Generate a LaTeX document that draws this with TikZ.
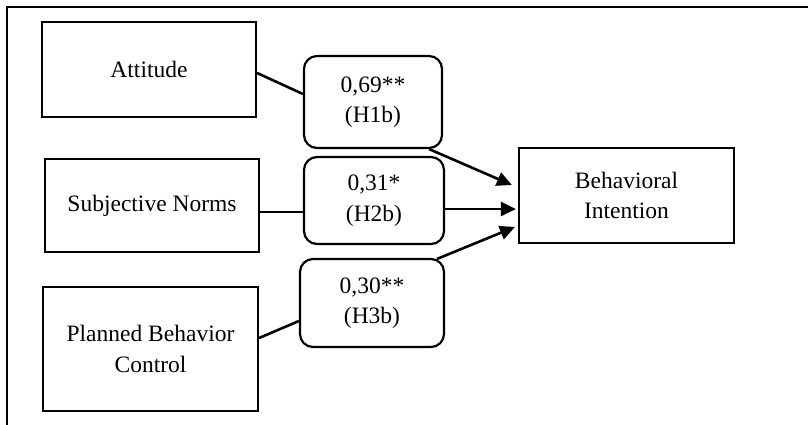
\documentclass[tikz,border=0pt]{standalone}
\usepackage{fontspec}
\setmainfont{Liberation Serif}
\usetikzlibrary{arrows.meta}
\begin{document}
\begin{tikzpicture}[x=1pt,y=-1pt,
  txt/.style={font=\fontsize{23.5}{30.5}\selectfont, align=center, inner sep=0pt},
  box/.style={txt, draw, line width=2.2pt, rectangle},
  rbox/.style={txt, draw, line width=2.2pt, rectangle, rounded corners=13pt},
  conn/.style={line width=2.6pt},
  arr/.style={conn, -{Triangle[length=15pt,width=14pt]}}]
\useasboundingbox (0,0) rectangle (808,424);
\clip (0,0) rectangle (808,424);
\fill[white] (0,0) rectangle (808,424);
\draw[line width=1.4pt] (7,7) rectangle (840,450);
% left boxes
\node[box, minimum width=214pt, minimum height=95pt] (att) at (149,69.5) {Attitude};
\node[box, minimum width=214pt, minimum height=93pt] (sn) at (152,205.5) {Subjective Norms};
\node[box, minimum width=215pt, minimum height=124pt] (pbc) at (150.5,349) {Planned Behavior\\Control};
% coefficient boxes
\node[rbox, minimum width=138pt, minimum height=92pt] (h1) at (373,102) {0,69**\\(H1b)};
\node[rbox, minimum width=140pt, minimum height=87pt] (h2) at (374,200.5) {0,31*\\(H2b)};
\node[rbox, minimum width=144pt, minimum height=88pt] (h3) at (372,303) {0,30**\\(H3b)};
% outcome
\node[box, minimum width=215pt, minimum height=95pt] (bi) at (626.5,195.5) {Behavioral\\Intention};
% connectors
\draw[conn] ([yshift=-3.5pt]att.east) -- ([yshift=8pt]h1.west);
\draw[conn] ([yshift=-6.5pt]sn.east) -- ([yshift=-11.5pt]h2.west);
\draw[conn] ([yshift=11pt]pbc.east) -- ([yshift=-18pt]h3.west);
\draw[arr] ([xshift=-14pt]h1.south east) -- ([xshift=-6pt,yshift=10.5pt]bi.west);
\draw[arr] ([yshift=-8.5pt]h2.east) -- ([xshift=-2pt,yshift=-13.5pt]bi.west);
\draw[arr] ([xshift=-8pt,yshift=-1pt]h3.north east) -- ([xshift=-3pt,yshift=-31.5pt]bi.west);
\end{tikzpicture}
\end{document}
